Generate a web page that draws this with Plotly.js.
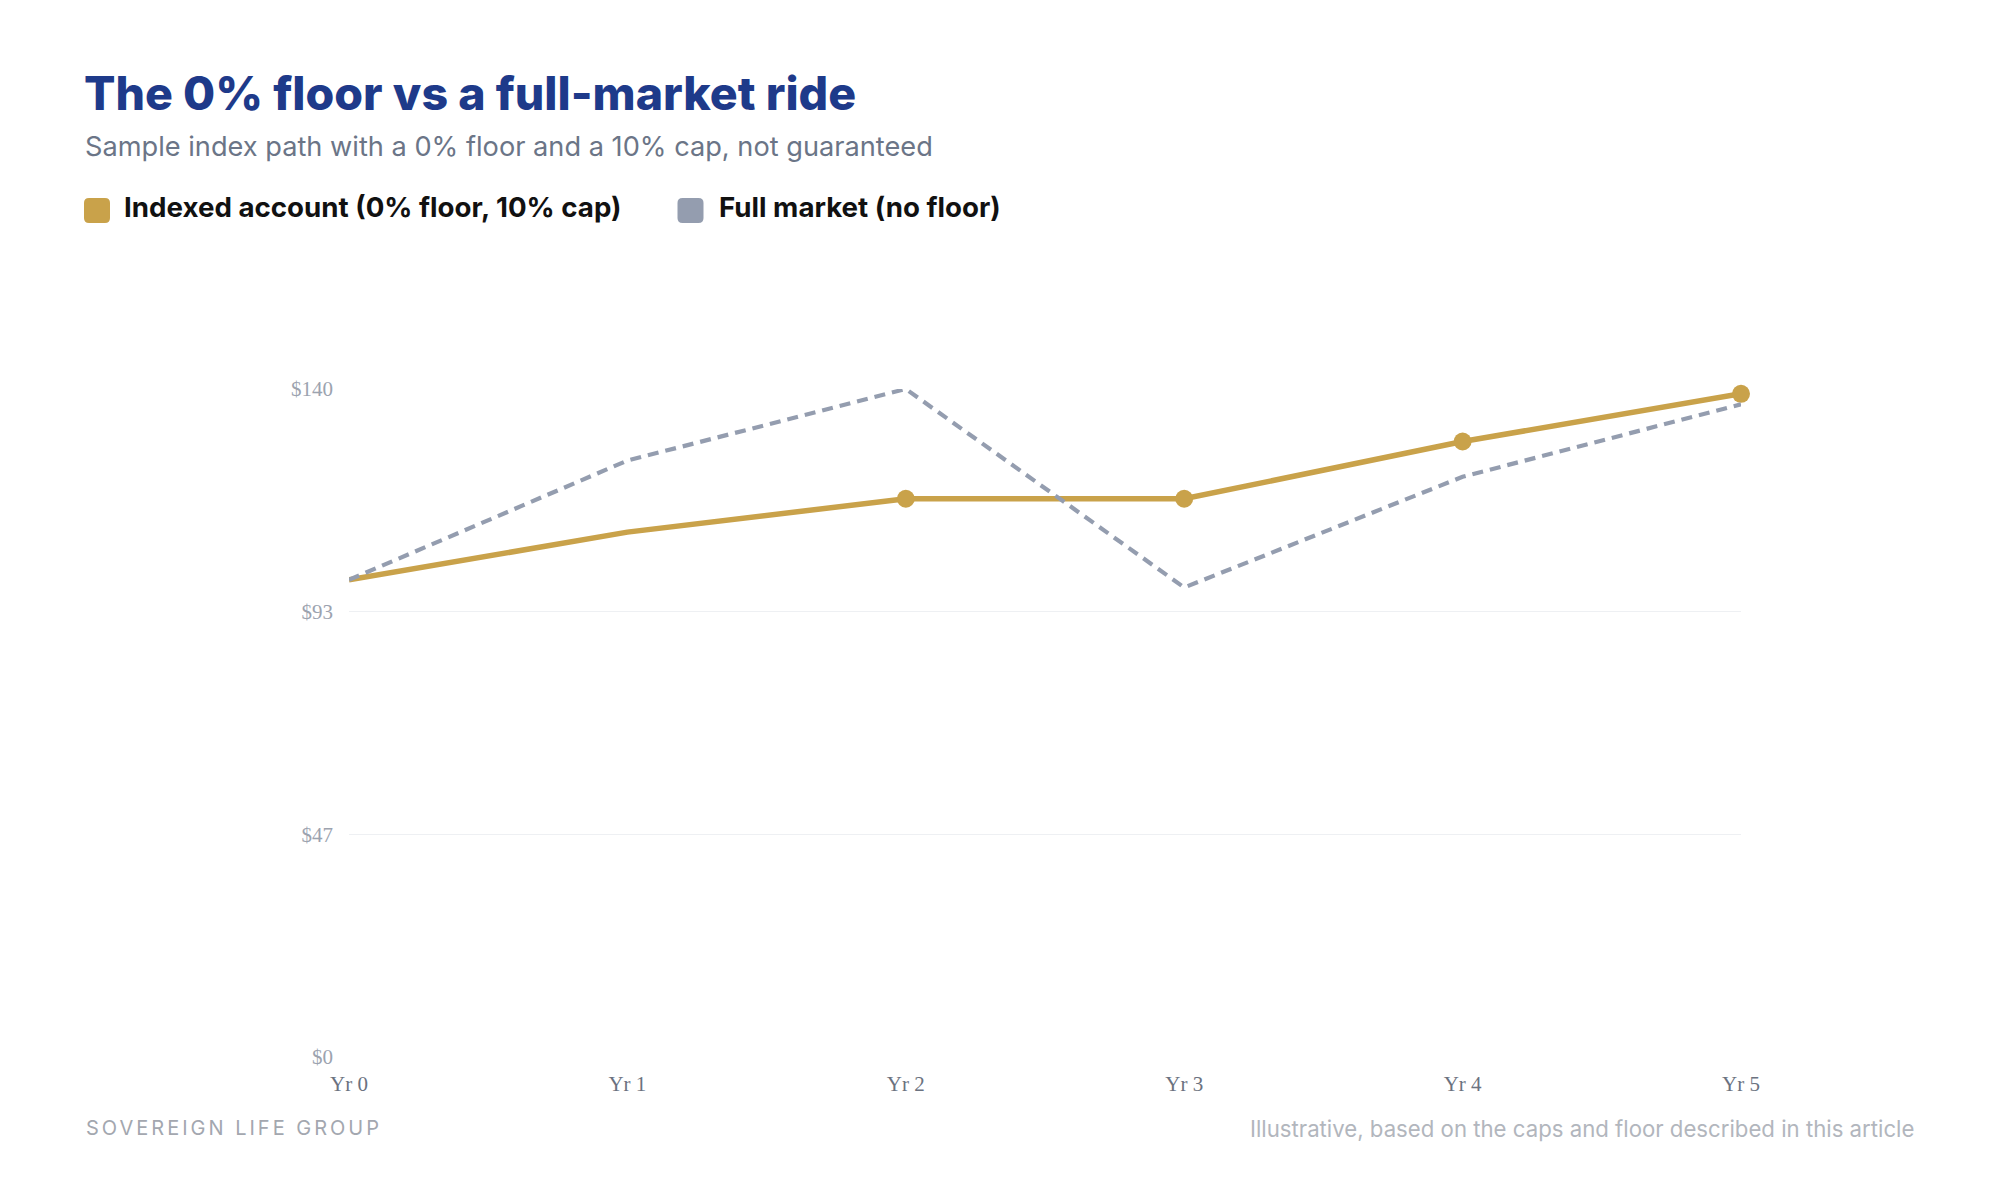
<!DOCTYPE html>
<html>
<head>
<meta charset="utf-8">
<script src="https://cdn.plot.ly/plotly-3.0.1.min.js"></script>
<style>
  html, body { margin: 0; padding: 0; background: #ffffff; }
  #chart { width: 2000px; height: 1200px; }
</style>
</head>
<body>
<div id="chart"></div>
<script>
// ---- Data ----
const years = ['Yr 0', 'Yr 1', 'Yr 2', 'Yr 3', 'Yr 4', 'Yr 5'];
const indexedAccount = [100, 110, 117, 117, 129, 139];
const fullMarket = [100, 125, 140, 98.4, 121.6, 136.8];
const indexedMarkerShown = [0, 0, 1, 1, 1, 1];
const yTickVals = [0, 140 / 3, 280 / 3, 140];
const yTickText = ['$0', '$47', '$93', '$140'];
const seriesNames = ['Indexed account (0% floor, 10% cap)', 'Full market (no floor)'];

// ---- Layout helpers ----
const W = 2000, H = 1200;
const M = { l: 349, r: 259, t: 389, b: 143 };
const pw = W - M.l - M.r, ph = H - M.t - M.b;
const px = x => (x - M.l) / pw;
const py = y => 1 - (y - M.t) / ph;

const GOLD = '#C9A24A';
const SLATE = '#949DAF';
const SANS = 'Inter, "Noto Sans", sans-serif';
const SERIF = '"Liberation Serif", "Times New Roman", serif';

const traces = [
  {
    x: years, y: indexedAccount, type: 'scatter', mode: 'lines+markers',
    name: seriesNames[0],
    line: { color: GOLD, width: 5.5 },
    marker: { color: GOLD, opacity: 1, size: indexedMarkerShown.map(v => v * 18), line: { width: 0 } },
    cliponaxis: false, hoverinfo: 'skip'
  },
  {
    x: years, y: fullMarket, type: 'scatter', mode: 'lines',
    name: seriesNames[1],
    line: { color: SLATE, width: 4.2, dash: '11px,7px' },
    cliponaxis: false, hoverinfo: 'skip'
  }
];

function swatch(cx, cy, color) {
  return {
    type: 'path', xref: 'paper', yref: 'paper',
    xsizemode: 'pixel', ysizemode: 'pixel',
    xanchor: px(cx), yanchor: py(cy),
    path: 'M -8,-12.5 L 8,-12.5 Q 13,-12.5 13,-7.5 L 13,7.5 Q 13,12.5 8,12.5 L -8,12.5 Q -13,12.5 -13,7.5 L -13,-7.5 Q -13,-12.5 -8,-12.5 Z',
    fillcolor: color, line: { width: 0 }
  };
}

const annotations = [
  { text: 'The 0% floor vs a full-market ride', x: px(82), y: py(93),
    font: { family: SANS, size: 46.5, weight: 800, color: '#1E3A8A' } },
  { text: 'Sample index path with a 0% floor and a 10% cap, not guaranteed', x: px(83), y: py(147),
    font: { family: SANS, size: 27.2, color: '#6B7587' } },
  { text: seriesNames[0], x: px(122), y: py(207),
    font: { family: SANS, size: 27.7, weight: 700, color: '#111111' } },
  { text: seriesNames[1], x: px(717), y: py(207),
    font: { family: SANS, size: 27.7, weight: 700, color: '#111111' } },
  { text: '<span style="letter-spacing:3px">SOVEREIGN LIFE GROUP</span>', x: px(84), y: py(1128),
    font: { family: SANS, size: 20, color: '#A3A7AF' } },
  { text: 'Illustrative, based on the caps and floor described in this article', x: px(1916), y: py(1128),
    xanchor: 'right', font: { family: SANS, size: 22.2, color: '#B2B6BD' } }
].map(a => Object.assign({ xref: 'paper', yref: 'paper', xanchor: 'left', yanchor: 'middle', showarrow: false }, a));

const layout = {
  width: W, height: H,
  margin: M,
  paper_bgcolor: '#ffffff', plot_bgcolor: '#ffffff',
  showlegend: false,
  xaxis: {
    type: 'category', range: [0, 5],
    showgrid: false, zeroline: false, showline: false, ticks: '',
    tickfont: { family: SERIF, size: 21, color: '#6B7280' },
    ticklabelstandoff: 12, fixedrange: true
  },
  yaxis: {
    range: [0, 140], tickmode: 'array', tickvals: yTickVals, ticktext: yTickText,
    showgrid: true, gridcolor: '#EEF0F3', gridwidth: 1,
    zeroline: false, showline: false, ticks: '',
    tickfont: { family: SERIF, size: 21, color: '#9CA3AF' },
    ticklabelstandoff: 15, fixedrange: true
  },
  shapes: [swatch(97, 210.5, GOLD), swatch(690.5, 210.5, SLATE)],
  annotations: annotations
};

Plotly.newPlot('chart', traces, layout, { staticPlot: true, displayModeBar: false });
</script>
</body>
</html>
